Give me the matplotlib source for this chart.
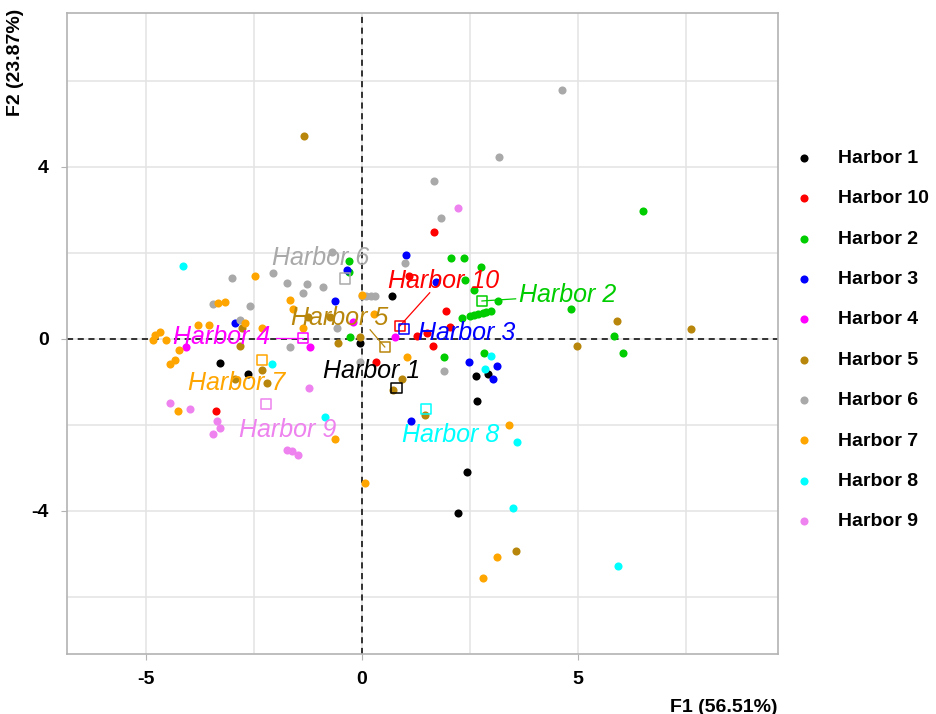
import matplotlib
matplotlib.use("Agg")
import matplotlib.pyplot as plt

plt.rcParams['font.family'] = ['Liberation Sans', 'DejaVu Sans']
plt.rcParams['axes.unicode_minus'] = False

harbors = ["Harbor 1", "Harbor 10", "Harbor 2", "Harbor 3", "Harbor 4",
           "Harbor 5", "Harbor 6", "Harbor 7", "Harbor 8", "Harbor 9"]

h1_x = [0.7, -3.29, -2.64, -0.05, 2.64, 2.92, 2.66, 2.43, 2.22]
h1_y = [1.0, -0.56, -0.81, -0.1, -0.86, -0.81, -1.44, -3.1, -4.05]

h10_x = [1.67, 1.09, 1.94, 2.04, 1.27, 1.5, 1.64, 0.32, -3.38]
h10_y = [2.49, 1.47, 0.65, 0.28, 0.07, 0.14, -0.16, -0.53, -1.67]

h2_x = [6.5, 4.84, 5.83, 6.04, 2.06, 2.36, 2.75, 2.38, 2.59, 3.15, 2.31, 2.5, 2.6,
        2.7, 2.8, 2.88, 3.0, 1.9, 2.83, -0.3, -0.3, -0.28]
h2_y = [2.98, 0.7, 0.07, -0.33, 1.88, 1.88, 1.67, 1.37, 1.14, 0.88, 0.49, 0.53, 0.56,
        0.58, 0.6, 0.62, 0.64, -0.42, -0.33, 1.81, 1.56, 0.05]

h3_x = [1.02, 1.71, -0.63, -2.94, -0.35, 2.48, 3.12, 3.03, 1.13]
h3_y = [1.95, 1.33, 0.89, 0.37, 1.6, -0.53, -0.63, -0.93, -1.91]

h4_x = [-0.21, -1.2, 0.76, -4.07]
h4_y = [0.4, -0.19, 0.05, -0.19]

h5_x = [-1.34, 5.9, 7.62, 4.98, 3.56, 1.46, 0.93, 0.72, -0.05, -0.56, -2.78, -2.82,
        -2.31, -2.2, -2.94, -0.74, -1.25]
h5_y = [4.72, 0.42, 0.23, -0.16, -4.93, -1.77, -0.93, -1.19, 0.05, -0.09, 0.26, -0.16,
        -0.72, -1.02, -0.93, 0.51, 0.51]

h6_x = [4.63, 3.17, 1.67, 1.83, 1.0, 1.9, -3.01, -2.06, -1.74, -1.27, -1.37, -0.9,
        -0.69, -2.59, -3.45, -2.82, -1.67, -0.58, -0.05, 0.0, 0.1, 0.2, 0.3]
h6_y = [5.79, 4.23, 3.67, 2.81, 1.77, -0.74, 1.42, 1.54, 1.3, 1.28, 1.07, 1.21,
        2.02, 0.77, 0.81, 0.44, -0.19, 0.26, -0.53, 1.0, 1.0, 1.0, 1.0]

h7_x = [-2.48, -3.33, -3.17, -3.8, -3.54, -4.79, -4.68, -4.84, -4.54, -4.24, -2.71,
        -4.33, -4.44, -1.67, -1.6, -2.31, -1.37, -4.26, -0.63, 0.28, 1.04, 3.4, 0.07,
        3.12, 2.8, 0.0]
h7_y = [1.47, 0.84, 0.86, 0.33, 0.33, 0.09, 0.16, -0.02, -0.02, -0.26, 0.37,
        -0.49, -0.58, 0.91, 0.7, 0.26, 0.26, -1.67, -2.33, 0.58, -0.42, -2.0, -3.35,
        -5.07, -5.56, 1.02]

h8_x = [-4.14, -2.08, -0.86, 3.0, 2.85, 3.6, 3.5, 5.93]
h8_y = [1.7, -0.58, -1.81, -0.4, -0.7, -2.4, -3.93, -5.28]

h9_x = [2.22, -1.23, -4.44, -3.98, -3.36, -3.29, -3.45, -1.74, -1.62, -1.48]
h9_y = [3.05, -1.14, -1.49, -1.63, -1.91, -2.07, -2.21, -2.58, -2.6, -2.7]

xs = [h1_x, h10_x, h2_x, h3_x, h4_x, h5_x, h6_x, h7_x, h8_x, h9_x]
ys = [h1_y, h10_y, h2_y, h3_y, h4_y, h5_y, h6_y, h7_y, h8_y, h9_y]

# group centroids (open squares)
cent_x = [0.8, 0.88, 2.78, 0.97, -1.37, 0.53, -0.39, -2.31, 1.48, -2.22]
cent_y = [-1.15, 0.3, 0.88, 0.23, 0.02, -0.19, 1.4, -0.49, -1.63, -1.51]

colors = ["black", "red", "#00CD00", "blue", "magenta", "#B8860B",
          "darkgray", "orange", "cyan", "violet"]

# label placement (repelled positions)
lab_x = [0.23, 1.88, 4.77, 2.43, -3.24, -0.51, -0.95, -2.89, 2.06, -1.71]
lab_y = [-0.74, 1.35, 1.02, 0.14, 0.05, 0.49, 1.88, -1.02, -2.23, -2.12]
seg_end = {1: (1.57, 1.07), 2: (3.56, 0.93), 4: (-2.0, 0.02), 5: (0.19, 0.21)}

fig = plt.figure(figsize=(9.37, 7.14), dpi=100)
ax = fig.add_axes([0.0715, 0.084, 0.7585, 0.898])

ax.axhline(0, color="black", linestyle=(0, (4, 3)), linewidth=1.1, zorder=1)
ax.axvline(0, color="black", linestyle=(0, (4, 3)), linewidth=1.1, zorder=1)

for i in range(len(harbors)):
    ax.scatter(xs[i], ys[i], s=34, color=colors[i], label=harbors[i], zorder=3, linewidths=0)

for i in range(len(harbors)):
    ax.scatter(cent_x[i], cent_y[i], s=55, marker="s", facecolors="none",
               edgecolors=colors[i], linewidths=1.1, zorder=4)
    if i in seg_end:
        ax.plot([cent_x[i], seg_end[i][0]], [cent_y[i], seg_end[i][1]],
                color=colors[i], linewidth=0.9, zorder=4)
    ax.text(lab_x[i], lab_y[i], harbors[i], color=colors[i], fontsize=18,
            style="italic", ha="center", va="center", zorder=5)

ax.set_xlim(-6.83, 9.63)
ax.set_ylim(-7.33, 7.58)
ax.set_xticks([-5, 0, 5])
ax.set_yticks([-4, 0, 4])
ax.set_xticks([-2.5, 2.5, 7.5], minor=True)
ax.set_yticks([-6, -2, 2, 6], minor=True)
ax.grid(True, which="both", color="#e3e3e3", linewidth=1.1, zorder=0)
ax.set_axisbelow(True)
ax.tick_params(which="major", length=4, color="#b3b3b3", labelsize=14)
ax.tick_params(axis="x", which="major", pad=8)
ax.tick_params(axis="y", which="major", pad=9)
ax.tick_params(which="minor", length=0)
for lbl in ax.get_xticklabels() + ax.get_yticklabels():
    lbl.set_fontweight("bold")
for sp in ax.spines.values():
    sp.set_color("#b3b3b3")
    sp.set_linewidth(1.2)

ax.set_xlabel("F1 (56.51%)", fontsize=14, fontweight="bold", loc="right", labelpad=8)
ax.set_ylabel("F2 (23.87%)", fontsize=14, fontweight="bold")
ax.yaxis.set_label_coords(-0.06, 0.922)

fig.legend(loc="center left", bbox_to_anchor=(0.841, 0.524), frameon=False,
           prop={"weight": "bold", "size": 14}, labelspacing=1.17,
           handlelength=0.8, handletextpad=1.37, borderaxespad=0)

fig.savefig("out.png", dpi=100)
